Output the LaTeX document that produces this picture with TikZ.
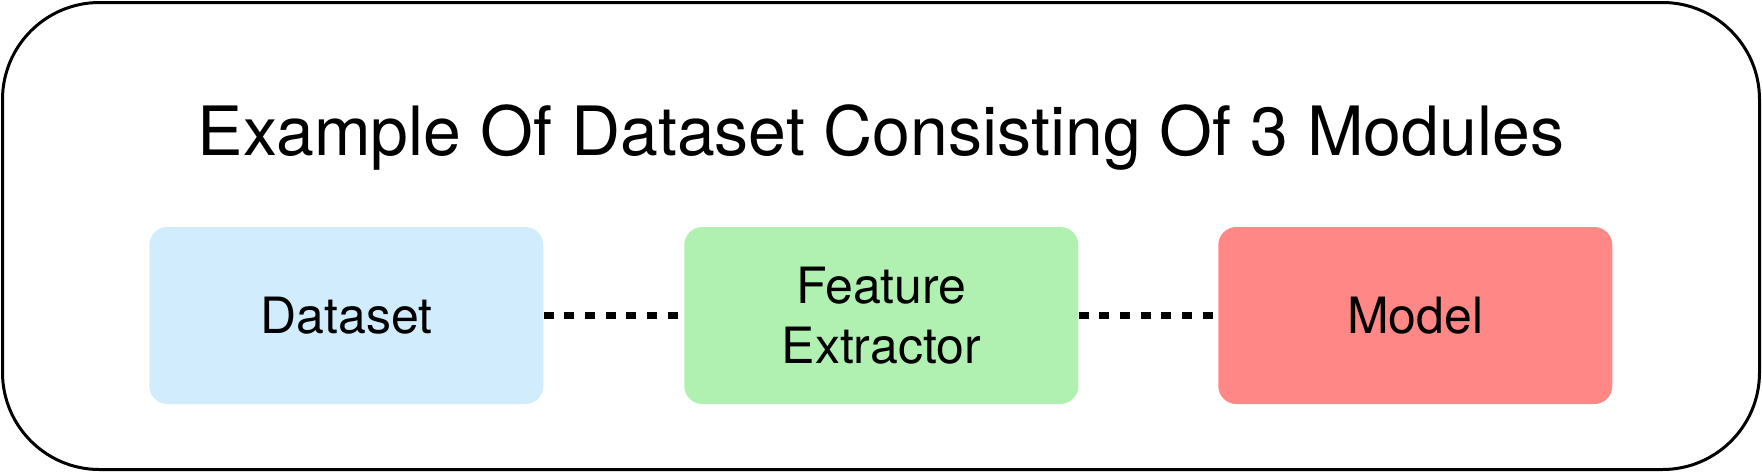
\documentclass[tikz,border=0pt]{standalone}
\usepackage{fontspec}
\setmainfont{TeX Gyre Heros}
\definecolor{dsblue}{RGB}{208,236,253}
\definecolor{fegreen}{RGB}{176,240,176}
\definecolor{mdred}{RGB}{255,136,134}
\tikzset{
  modbox/.style={rectangle, rounded corners=18pt, minimum width=394pt, minimum height=177pt, inner sep=0pt, align=center, font=\fontsize{50pt}{60pt}\selectfont},
  dotline/.style={line width=6.5pt, dash pattern=on 10pt off 10.7pt}
}
\begin{document}
\begin{tikzpicture}[x=1pt,y=-1pt]
\useasboundingbox (0,0) rectangle (1762,472);
\draw[line width=3pt, rounded corners=97pt] (2.5,2.5) rectangle (1759.5,469.5);
\node[anchor=base, inner sep=0pt, font=\fontsize{68pt}{80pt}\selectfont] (title) at (881,155) {Example Of Dataset Consisting Of 3 Modules};
\node[modbox, fill=dsblue] (ds) at (346.3,315.5) {Dataset};
\node[modbox, fill=fegreen] (fe) at (881.3,315.5) {Feature\\Extractor};
\node[modbox, fill=mdred] (md) at (1415.3,315.5) {Model};
\draw[dotline] (ds.east) -- (fe.west);
\draw[dotline] (fe.east) -- (md.west);
\end{tikzpicture}
\end{document}
